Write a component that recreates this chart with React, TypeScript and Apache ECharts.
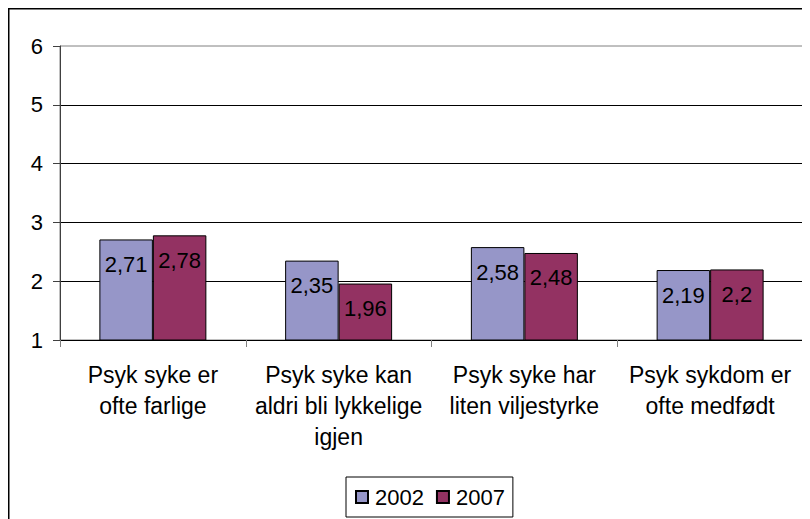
import React, { useEffect, useRef } from "react";
import * as echarts from "echarts";

const categories = [
  "Psyk syke er\nofte farlige",
  "Psyk syke kan\naldri bli lykkelige\nigjen",
  "Psyk syke har\nliten viljestyrke",
  "Psyk sykdom er\nofte medfødt",
];
const seriesNames = ["2002", "2007"];
const values2002 = [2.71, 2.35, 2.58, 2.19];
const values2007 = [2.78, 1.96, 2.48, 2.2];
const yMin = 1;
const yMax = 6;
const yInterval = 1;

const FONT = "'Liberation Sans', Arial, Helvetica, sans-serif";

export default function App() {
  const ref = useRef<HTMLDivElement>(null);
  useEffect(() => {
    if (!ref.current) return;
    const chart = echarts.init(ref.current, undefined, { renderer: "svg" });
    const fmt = (p: any) => String(p.value).replace(".", ",");
    const labelCfg = {
      show: true,
      position: "insideTop",
      distance: 14,
      color: "#000",
      fontFamily: FONT,
      fontSize: 22,
      formatter: fmt,
    };
    chart.setOption({
      animation: false,
      backgroundColor: "#fff",
      textStyle: { fontFamily: FONT },
      graphic: [
        { type: "line", shape: { x1: 0, y1: 0.5, x2: 802, y2: 0.5 }, style: { stroke: "#000", lineWidth: 2 } },
        { type: "line", shape: { x1: 0.5, y1: 0, x2: 0.5, y2: 511 }, style: { stroke: "#000", lineWidth: 2 } },
      ],
      grid: {
        left: 52,
        right: 7,
        top: 38,
        bottom: 179,
        show: true,
        borderColor: "#808080",
        borderWidth: 1,
        containLabel: false,
      },
      legend: {
        data: seriesNames,
        left: 338,
        top: 469,
        orient: "horizontal",
        icon: "rect",
        itemWidth: 12,
        itemHeight: 12,
        itemGap: 12,
        padding: [9, 8, 9, 9],
        borderColor: "#000",
        borderWidth: 1,
        textStyle: { fontSize: 22, color: "#000", fontFamily: FONT, padding: [0, 0, 0, 2] },
      },
      xAxis: {
        type: "category",
        data: categories,
        boundaryGap: true,
        axisLine: { show: true, lineStyle: { color: "#000", width: 1 } },
        axisTick: { show: true, length: 7, lineStyle: { color: "#808080" } },
        axisLabel: {
          interval: 0,
          fontSize: 23,
          lineHeight: 31,
          color: "#000",
          fontFamily: FONT,
          margin: 19,
        },
        splitLine: { show: false },
      },
      yAxis: {
        type: "value",
        min: yMin,
        max: yMax,
        interval: yInterval,
        axisLine: { show: true, lineStyle: { color: "#404040", width: 1 } },
        axisTick: { show: true, length: 7, lineStyle: { color: "#404040" } },
        axisLabel: { fontSize: 22, color: "#000", fontFamily: FONT, margin: 17 },
        splitLine: { show: true, showMinLine: false, showMaxLine: false, lineStyle: { color: "#000", width: 1 } },
      },
      series: [
        {
          name: seriesNames[0],
          type: "bar",
          data: values2002,
          barGap: "0%",
          barCategoryGap: "42.4%",
          itemStyle: { color: "#9696C8", borderColor: "#000", borderWidth: 1 },
          label: labelCfg,
        },
        {
          name: seriesNames[1],
          type: "bar",
          data: values2007,
          barGap: "0%",
          barCategoryGap: "42.4%",
          itemStyle: { color: "#933262", borderColor: "#000", borderWidth: 1 },
          label: labelCfg,
        },
      ],
    });
    return () => chart.dispose();
  }, []);
  return <div ref={ref} style={{ width: 802, height: 511 }} />;
}
